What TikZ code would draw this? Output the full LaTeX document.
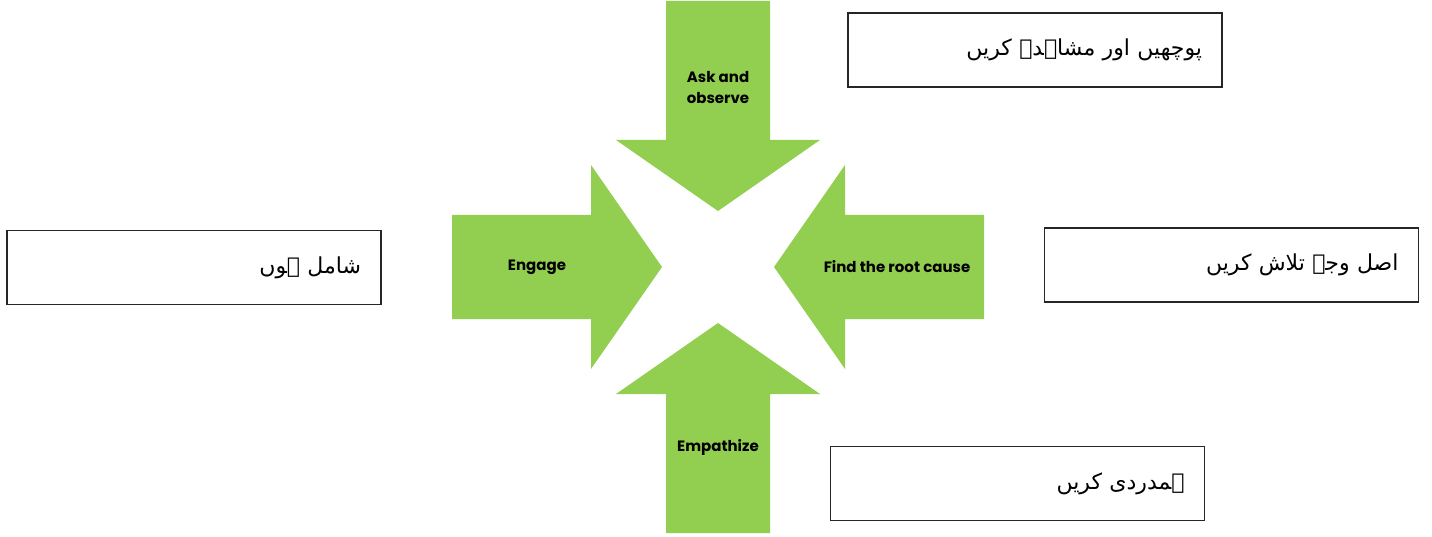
\documentclass[tikz,border=0pt]{standalone}
\usepackage{fontspec}
\setmainfont{Poppins}
\newfontfamily\urdufont[Script=Arabic]{DejaVu Sans}
\TeXXeTstate=1
\usetikzlibrary{calc, positioning}
\definecolor{arrowGreen}{RGB}{146,206,80}

\begin{document}
\begin{tikzpicture}[x=1pt,y=-1pt,
    arrowLabel/.style={font=\bfseries\fontsize{15}{21}\selectfont,align=center},
    urduBox/.style={draw=black!85,line width=1.5pt,minimum width=374pt,minimum height=74pt,
        text width=334pt,align=right,inner sep=0pt,font=\urdufont\fontsize{22}{26}\selectfont}]

\useasboundingbox (0,0) rectangle (1432,537);

% four block arrows pointing to the centre
\foreach \r in {0,90,180,270}
{
    \begin{scope}[shift={(718,267)},rotate=\r]
    \fill[arrowGreen] (-56,0) -- (-127,-102) -- (-127,-52) -- (-266,-52)
        -- (-266,52) -- (-127,52) -- (-127,102) -- cycle;
    \end{scope}
}

\node[arrowLabel] (nAsk) at (718,88) {Ask and\\observe};
\node[arrowLabel] (nEngage) at (537,267) {Engage};
\node[arrowLabel] (nRoot) at (897,267) {Find the root cause};
\node[arrowLabel] (nEmpathize) at (718,447) {Empathize};

% urdu boxes
\node[urduBox] (bAsk) at (1035,50) {\raisebox{3pt}{\beginR پوچھیں اور مشاہدہ کریں\endR}};
\node[urduBox] (bRoot) at (1231.5,265) {\raisebox{2pt}{\beginR اصل وجہ تلاش کریں\endR}};
\node[urduBox] (bEngage) at (194,267.5) {\raisebox{3pt}{\beginR شامل ہوں\endR}};
\node[urduBox] (bEmpathize) at (1017.5,483.5) {\raisebox{3pt}{\beginR ہمدردی کریں\endR}};
\end{tikzpicture}
\end{document}
